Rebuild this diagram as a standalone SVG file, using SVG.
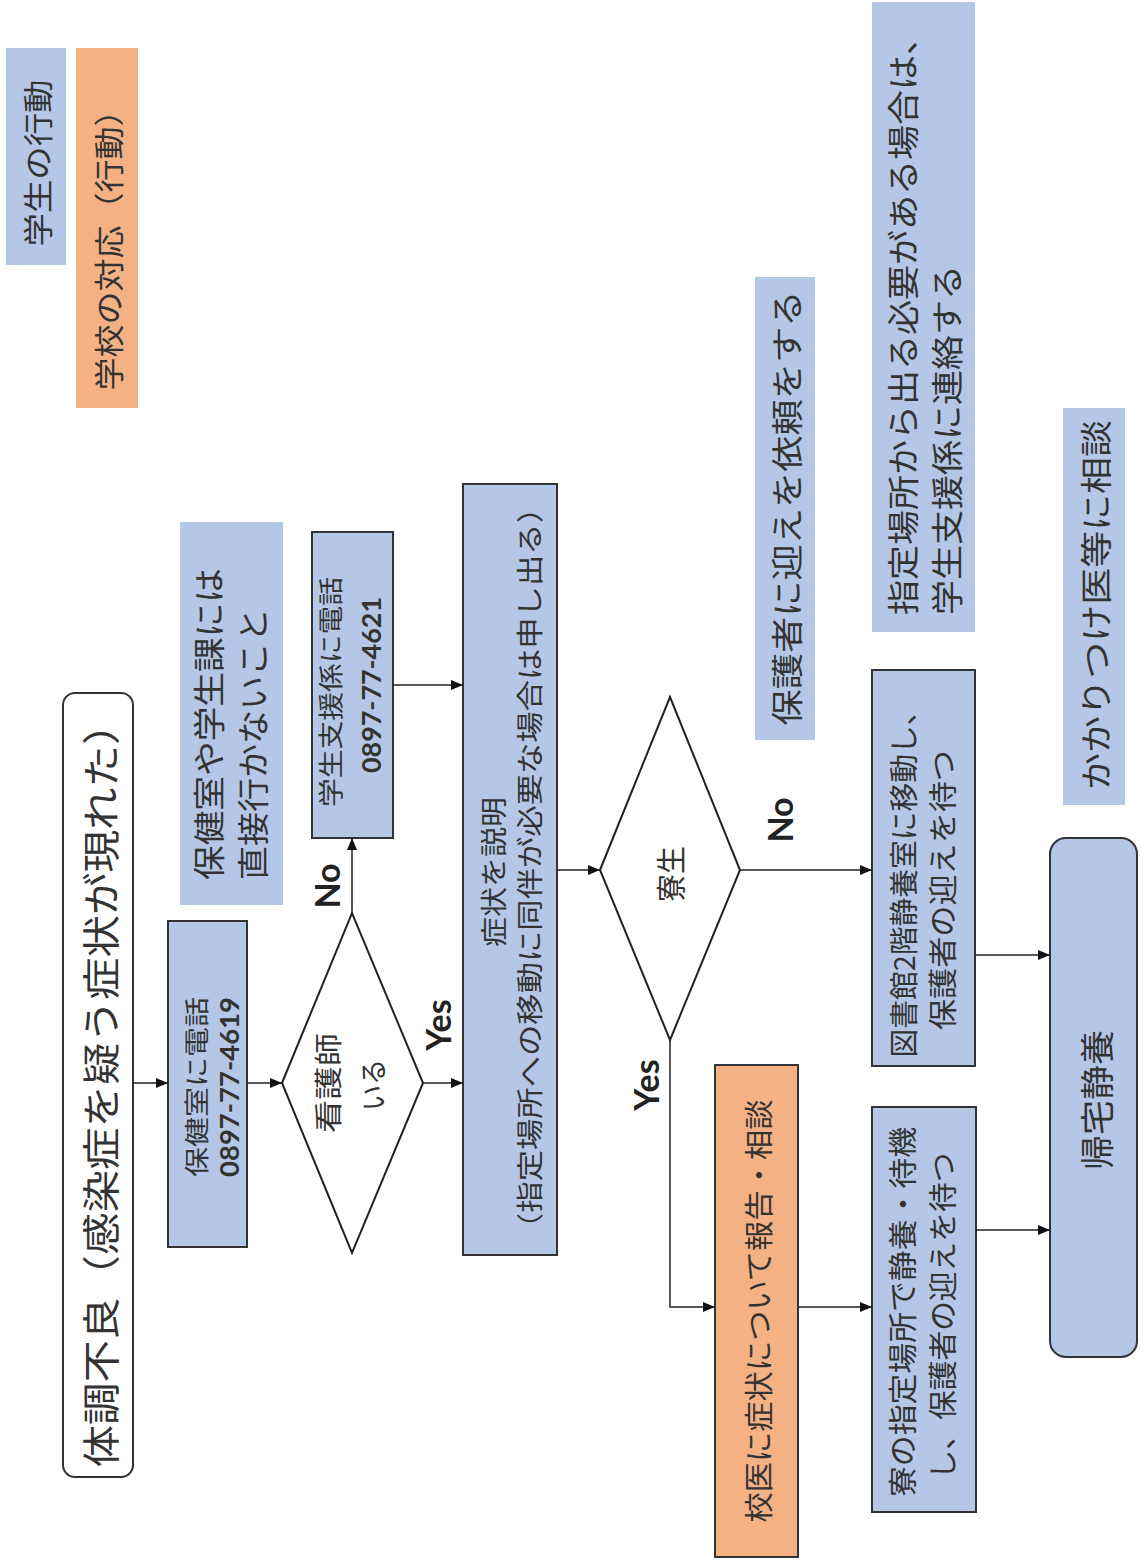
<svg xmlns="http://www.w3.org/2000/svg" width="1141" height="1561" viewBox="0 0 1141 1561">
<style>
.t{font-family:"Noto Sans CJK JP","Noto Sans CJK SC",sans-serif;fill:#333;text-anchor:middle;dominant-baseline:central}
.s{text-anchor:start}
.lat{font-family:Lato,"Liberation Sans","Noto Sans CJK JP",sans-serif}
.yn{font-family:Lato,"Liberation Sans",sans-serif;font-weight:bold;fill:#222}
.box{fill:#b4c7e7;stroke:#333;stroke-width:2}
.note{fill:#b4c7e7}
.org{fill:#f4b183;stroke:#333;stroke-width:2}
.dia{fill:#fff;stroke:#222;stroke-width:2}
.c{fill:none;stroke:#222;stroke-width:1.5;marker-end:url(#ah)}
</style>
<defs>
<marker id="ah" markerUnits="userSpaceOnUse" markerWidth="12" markerHeight="10" refX="12" refY="5" orient="auto">
<path d="M0,0 L12,5 L0,10 Z" fill="#111"/>
</marker>
</defs>

<g id="legend-student">
<rect class="note" x="6" y="48" width="60" height="217"/>
<text class="t" transform="translate(36,163) rotate(-90)" font-size="30" textLength="167" lengthAdjust="spacingAndGlyphs">学生の行動</text>
</g>
<g id="legend-school">
<rect class="note" x="76" y="48" width="62" height="360" style="fill:#f4b183"/>
<text class="t" transform="translate(107,242) rotate(-90)" font-size="30" textLength="297" lengthAdjust="spacingAndGlyphs">学校の対応（行動）</text>
</g>

<g id="start">
<rect x="63" y="693" width="70" height="784" rx="12" fill="#fff" stroke="#333" stroke-width="2"/>
<text class="t" transform="translate(98,1085) rotate(-90)" font-size="38" textLength="765" lengthAdjust="spacingAndGlyphs">体調不良（感染症を疑う症状が現れた）</text>
</g>

<g id="call-health">
<rect class="box" x="168" y="921" width="79" height="326"/>
<text class="t" transform="translate(195,1087) rotate(-90)" font-size="25" textLength="180" lengthAdjust="spacingAndGlyphs">保健室に電話</text>
<text class="t lat" transform="translate(229,1087) rotate(-90)" font-size="26" font-weight="bold" textLength="180" lengthAdjust="spacingAndGlyphs">0897-77-4619</text>
</g>

<g id="note-direct">
<rect class="note" x="180" y="522" width="103" height="383"/>
<text class="t s" transform="translate(207,880) rotate(-90)" font-size="32" textLength="312" lengthAdjust="spacingAndGlyphs">保健室や学生課には</text>
<text class="t s" transform="translate(251,880) rotate(-90)" font-size="32" textLength="272" lengthAdjust="spacingAndGlyphs">直接行かないこと</text>
</g>

<g id="nurse">
<polygon class="dia" points="282,1083 352,913 423,1083 352,1253"/>
<text class="t" transform="translate(327,1083) rotate(-90)" font-size="28" textLength="100" lengthAdjust="spacingAndGlyphs">看護師</text>
<text class="t" transform="translate(372,1085) rotate(-90)" font-size="28" textLength="52" lengthAdjust="spacingAndGlyphs">いる</text>
</g>

<g id="call-support">
<rect class="box" x="312" y="532" width="81" height="306"/>
<text class="t" transform="translate(329,692) rotate(-90)" font-size="25" textLength="230" lengthAdjust="spacingAndGlyphs">学生支援係に電話</text>
<text class="t lat" transform="translate(371,685) rotate(-90)" font-size="26" font-weight="bold" textLength="176" lengthAdjust="spacingAndGlyphs">0897-77-4621</text>
</g>

<g id="explain">
<rect class="box" x="463" y="484" width="94" height="771"/>
<text class="t" transform="translate(492,872) rotate(-90)" font-size="27" textLength="150" lengthAdjust="spacingAndGlyphs">症状を説明</text>
<text class="t" transform="translate(528,868) rotate(-90)" font-size="27" textLength="752" lengthAdjust="spacingAndGlyphs">（指定場所への移動に同伴が必要な場合は申し出る）</text>
</g>

<g id="dorm">
<polygon class="dia" points="600,870 670,697 740,870 670,1040"/>
<text class="t" transform="translate(669,874) rotate(-90)" font-size="30" textLength="56" lengthAdjust="spacingAndGlyphs">寮生</text>
</g>

<g id="note-pickup">
<rect class="note" x="755" y="277" width="60" height="463"/>
<text class="t" transform="translate(785,508) rotate(-90)" font-size="32" textLength="435" lengthAdjust="spacingAndGlyphs">保護者に迎えを依頼をする</text>
</g>

<g id="note-contact">
<rect class="note" x="872" y="2" width="103" height="630"/>
<text class="t s" transform="translate(901,615) rotate(-90)" font-size="32" textLength="595" lengthAdjust="spacingAndGlyphs">指定場所から出る必要がある場合は、</text>
<text class="t s" transform="translate(945,615) rotate(-90)" font-size="32" textLength="350" lengthAdjust="spacingAndGlyphs">学生支援係に連絡する</text>
</g>

<g id="school-doctor">
<rect class="org" x="715" y="1065" width="83" height="492"/>
<text class="t" transform="translate(757,1311) rotate(-90)" font-size="29" textLength="423" lengthAdjust="spacingAndGlyphs">校医に症状について報告・相談</text>
</g>

<g id="library">
<rect class="box" x="872" y="670" width="103" height="396"/>
<text class="t" transform="translate(902,877) rotate(-90)" font-size="29" textLength="361" lengthAdjust="spacingAndGlyphs">図書館2階静養室に移動し、</text>
<text class="t" transform="translate(941,890) rotate(-90)" font-size="29" textLength="280" lengthAdjust="spacingAndGlyphs">保護者の迎えを待つ</text>
</g>

<g id="dorm-place">
<rect class="box" x="872" y="1107" width="104" height="405"/>
<text class="t" transform="translate(901,1312) rotate(-90)" font-size="29" textLength="370" lengthAdjust="spacingAndGlyphs">寮の指定場所で静養・待機</text>
<text class="t" transform="translate(941,1316) rotate(-90)" font-size="29" textLength="327" lengthAdjust="spacingAndGlyphs">し、保護者の迎えを待つ</text>
</g>

<g id="doctor-note">
<rect class="note" x="1063" y="408" width="62" height="397"/>
<text class="t" transform="translate(1094,605) rotate(-90)" font-size="32" textLength="370" lengthAdjust="spacingAndGlyphs">かかりつけ医等に相談</text>
</g>

<g id="home">
<rect class="box" x="1050" y="838" width="87" height="519" rx="16"/>
<text class="t" transform="translate(1095,1100) rotate(-90)" font-size="34" textLength="140" lengthAdjust="spacingAndGlyphs">帰宅静養</text>
</g>

<g id="connectors">
<path class="c" d="M133,1083 L168,1083"/>
<path class="c" d="M247,1083 L282,1083"/>
<path class="c" d="M423,1083 L463,1083"/>
<path class="c" d="M352,913 L352,838"/>
<path class="c" d="M393,685 L463,685"/>
<path class="c" d="M557,870 L600,870"/>
<path class="c" d="M740,870 L872,870"/>
<path class="c" d="M670,1040 L670,1307 L715,1307"/>
<path class="c" d="M798,1307 L872,1307"/>
<path class="c" d="M975,955 L1050,955"/>
<path class="c" d="M976,1230 L1050,1230"/>
<text class="t yn" transform="translate(437,1025) rotate(-90)" font-size="34">Yes</text>
<text class="t yn" transform="translate(326,886) rotate(-90)" font-size="34">No</text>
<text class="t yn" transform="translate(645,1085) rotate(-90)" font-size="34">Yes</text>
<text class="t yn" transform="translate(779,820) rotate(-90)" font-size="34">No</text>
</g>
</svg>
